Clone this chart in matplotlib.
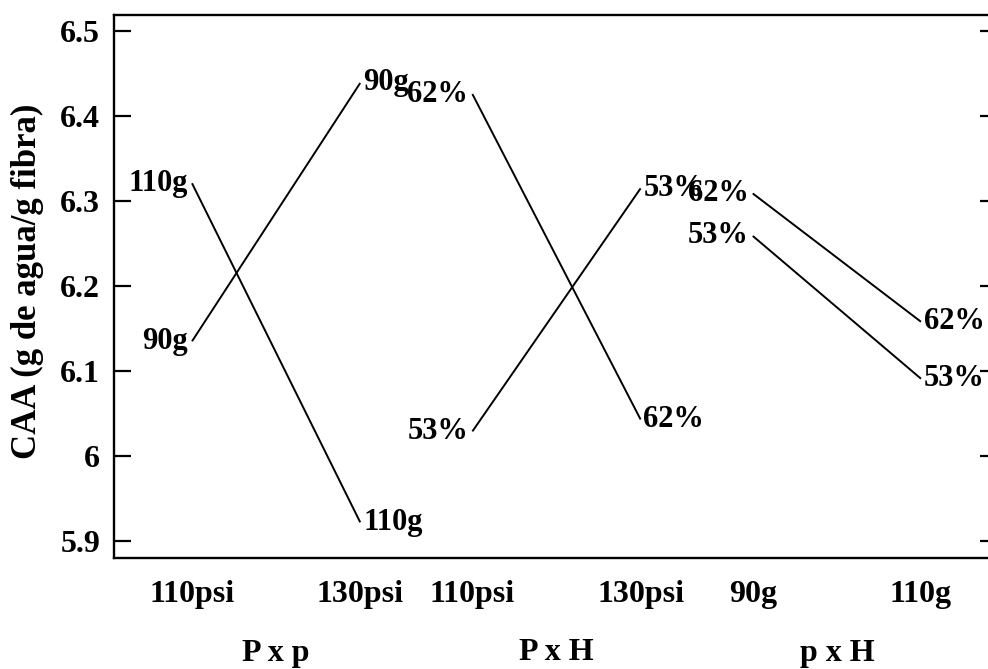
import matplotlib
matplotlib.use("Agg")
import matplotlib.pyplot as plt

# ---- data ----
panel_names = ["P x p", "P x H", "p x H"]
tick_labels = ["110psi", "130psi", "110psi", "130psi", "90g", "110g"]

pxp_series = ["110g", "90g"]
pxp_values = [[6.321, 5.922], [6.135, 6.439]]

pxh_series = ["62%", "53%"]
pxh_values = [[6.426, 6.043], [6.029, 6.315]]

pxH_series = ["62%", "53%"]
pxH_values = [[6.309, 6.158], [6.259, 6.091]]

y_ticks = [5.9, 6.0, 6.1, 6.2, 6.3, 6.4, 6.5]
y_tick_labels = ["5.9", "6", "6.1", "6.2", "6.3", "6.4", "6.5"]
y_label = "CAA (g de agua/g fibra)"

# ---- layout ----
x_pos = [0, 1.5, 2.5, 4.0, 5.0, 6.5]
FONT = "Liberation Serif"
FS = 23
FSA = 22

fig = plt.figure(figsize=(9.88, 6.69), dpi=100)
ax = fig.add_axes([114 / 988, 1 - 558 / 669, (990 - 114) / 988, (558 - 15) / 669])
ax.set_xlim((114 - 192) / 112.15, (990 - 192) / 112.15)
ax.set_ylim(5.880, 6.519)

panels = [(pxp_series, pxp_values), (pxh_series, pxh_values), (pxH_series, pxH_values)]
for i, (names, vals) in enumerate(panels):
    x0, x1 = x_pos[2 * i], x_pos[2 * i + 1]
    for name, (v0, v1) in zip(names, vals):
        ax.plot([x0, x1], [v0, v1], color="black", lw=1.4, solid_capstyle="butt")
        ax.annotate(name, (x0, v0), xytext=(-3, 0), textcoords="offset points",
                    ha="right", va="center", fontsize=FSA, fontweight="bold", family=FONT)
        ax.annotate(name, (x1, v1), xytext=(2, 0), textcoords="offset points",
                    ha="left", va="center", fontsize=FSA, fontweight="bold", family=FONT)

ax.set_xticks(x_pos)
ax.set_xticklabels(tick_labels, fontsize=FS, fontweight="bold", family=FONT)
ax.tick_params(axis="x", length=0, pad=16)

ax.set_yticks(y_ticks)
ax.set_yticklabels(y_tick_labels, fontsize=FS, fontweight="bold", family=FONT)
ax.tick_params(axis="y", direction="in", length=12, width=1.6, pad=10)

for side in ["top", "bottom", "left"]:
    ax.spines[side].set_linewidth(1.7)
ax.spines["right"].set_visible(False)

ax2 = ax.twinx()
ax2.set_ylim(ax.get_ylim())
ax2.set_yticks(y_ticks)
ax2.set_yticklabels([])
ax2.tick_params(axis="y", direction="in", length=7, width=1.6)
for s in ax2.spines.values():
    s.set_visible(False)

ax.set_ylabel(y_label, fontsize=25, fontweight="bold", family=FONT)
ax.yaxis.set_label_coords(-(114 - 44) / 876, 1 - (281 - 15) / 543)

for i, name in enumerate(panel_names):
    xc = (x_pos[2 * i] + x_pos[2 * i + 1]) / 2
    ax.text(xc, -(653 - 558) / 543, name, transform=ax.get_xaxis_transform(),
            ha="center", va="center", fontsize=FS, fontweight="bold", family=FONT)

fig.savefig("out.png", dpi=100)
